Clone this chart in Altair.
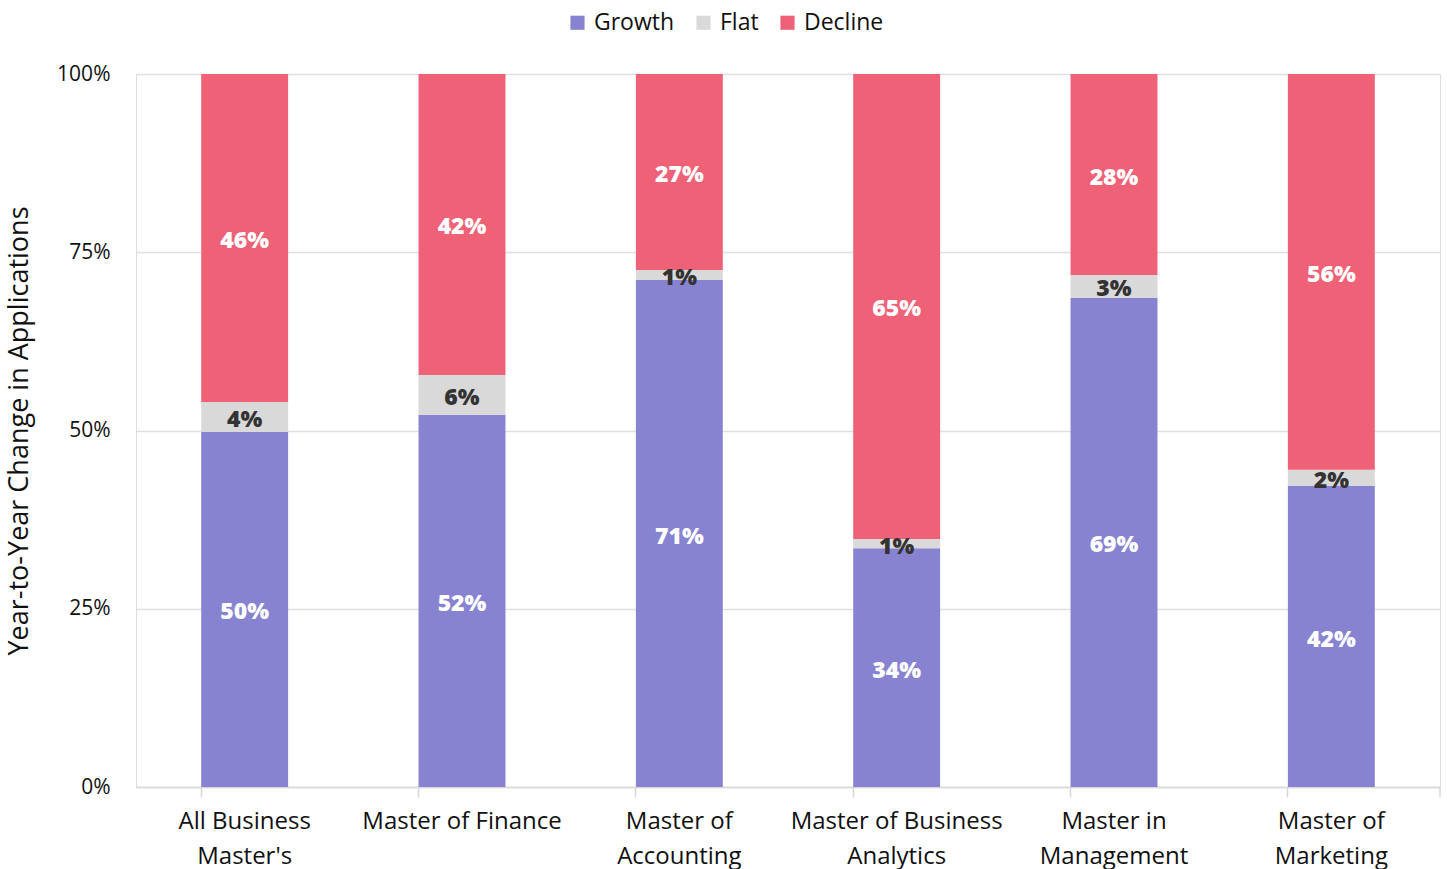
import altair as alt
import pandas as pd

categories = ["All Business\nMaster's", "Master of Finance", "Master of\nAccounting",
              "Master of Business\nAnalytics", "Master in\nManagement", "Master of\nMarketing"]
growth = [49.8, 52.2, 71.1, 33.5, 68.6, 42.2]
flat = [4.2, 5.6, 1.4, 1.3, 3.2, 2.3]
decline = [46.0, 42.2, 27.5, 65.2, 28.2, 55.5]
growth_lbl = ["50%", "52%", "71%", "34%", "69%", "42%"]
flat_lbl = ["4%", "6%", "1%", "1%", "3%", "2%"]
decline_lbl = ["46%", "42%", "27%", "65%", "28%", "56%"]
series = ["Growth", "Flat", "Decline"]
colors = ["#8883D1", "#D9D9D9", "#EE6176"]
label_colors = ["#FFFFFF", "#333333", "#FFFFFF"]

rows = []
for i, c in enumerate(categories):
    for k, (vals, lbls) in enumerate([(growth, growth_lbl), (flat, flat_lbl), (decline, decline_lbl)]):
        rows.append({"category": c, "series": series[k], "order": k,
                     "value": vals[i] / 100.0, "label": lbls[i], "lcolor": label_colors[k]})
df = pd.DataFrame(rows)

FONT = "Open Sans"
W, H = 1304, 713

base = alt.Chart(df).transform_stack(
    stack="value", groupby=["category"], sort=[alt.SortField("order")], as_=["y0", "y1"]
).transform_calculate(mid="(datum.y0 + datum.y1) / 2")

x_enc = alt.X("category:N", sort=categories, title=None,
              scale=alt.Scale(paddingInner=0.6, paddingOuter=0.3),
              axis=alt.Axis(labelAngle=0, labelFontSize=24, labelColor="#111111", labelFont=FONT,
                            labelExpr="split(datum.label, '\\n')", labelLineHeight=35,
                            labelLimit=0, labelPadding=12, tickSize=10, tickColor="#D9D6D9",
                            tickWidth=1.5, domainColor="#D9D6D9", domainWidth=1.5,
                            bandPosition=0, grid=False))

bars = base.mark_bar().encode(
    x=x_enc,
    y=alt.Y("y0:Q", title="Year-to-Year Change in Applications",
            scale=alt.Scale(domain=[0, 1], nice=False),
            axis=alt.Axis(format=".0%", values=[0, 0.25, 0.5, 0.75, 1.0], labelFontSize=21,
                          labelColor="#111111", labelFont=FONT, labelPadding=26,
                          ticks=False, domain=False, gridColor="#E2DEE1", gridWidth=1.5,
                          titleFontSize=27, titleFont=FONT, titleFontWeight="normal",
                          titleColor="#111111", titlePadding=23)),
    y2="y1:Q",
    color=alt.Color("series:N", sort=series,
                    scale=alt.Scale(domain=series, range=colors),
                    legend=alt.Legend(title=None, orient="none", direction="horizontal",
                                      legendX=430, legendY=-63, symbolType="square",
                                      symbolSize=200, symbolStrokeWidth=0,
                                      labelFontSize=23, labelFont=FONT, labelColor="#111111",
                                      columnPadding=17, labelOffset=5)),
)

text = base.mark_text(font=FONT, fontSize=23, fontWeight=800, baseline="middle", dy=3).encode(
    x=alt.X("category:N", sort=categories),
    y=alt.Y("mid:Q"),
    text="label:N",
    color=alt.Color("lcolor:N", scale=None),
)

# closing tick at the right end of the category axis
end_tick = alt.Chart(pd.DataFrame({"k": [0]})).mark_rule(
    color="#D9D6D9", strokeWidth=1.5
).encode(x=alt.value(W), y=alt.value(H), y2=alt.value(H + 10))

chart = alt.layer(bars, text, end_tick).properties(
    width=W, height=H,
    autosize=alt.AutoSizeParams(type="none"),
    padding={"left": 136, "top": 74, "right": 7, "bottom": 82},
).configure_view(strokeWidth=0, strokeOpacity=0).configure(background="white")

chart.save("out.html", embed_options={"renderer": "svg", "actions": False})
